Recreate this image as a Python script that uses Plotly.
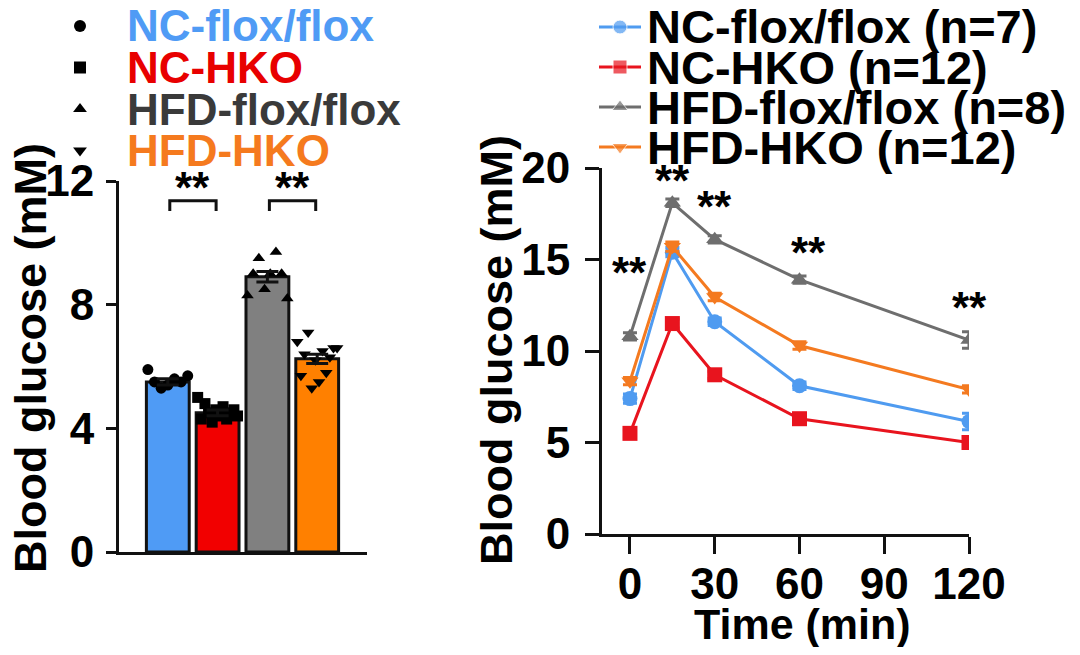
import plotly.graph_objects as go

# page: body has an 8px margin, so the figure is sized to fit the 1080x655 window
OFF = 8
FW, FH = 1064, 639

# ---------------- data ----------------
groups = ["NC-flox/flox", "NC-HKO", "HFD-flox/flox", "HFD-HKO"]
group_n = [7, 12, 8, 12]
bar_colors = ["#4F9BF5", "#F20000", "#808080", "#FF8000"]
text_colors = ["#4F9BF5", "#E80000", "#3A3A3A", "#F57A1E"]
line_colors = ["#4F9BF0", "#E8141E", "#6E6E6E", "#F47A20"]
bar_symbols = ["circle", "square", "triangle-up", "triangle-down"]

bar_means = [5.5, 4.5, 8.9, 6.25]
bar_sem = [0.10, 0.09, 0.17, 0.15]
pts_nc_flox = [5.9, 5.5, 5.3, 5.4, 5.6, 5.5, 5.7]
pts_nc_hko = [5.0, 4.3, 4.8, 4.5, 4.2, 4.6, 4.4, 4.7, 4.3, 4.5, 4.6, 4.4]
pts_hfd_flox = [8.3, 9.0, 9.5, 8.5, 9.0, 9.7, 9.0, 8.2]
pts_hfd_hko = [6.8, 5.7, 6.4, 7.1, 5.3, 6.2, 5.5, 6.5, 5.8, 6.3, 6.6, 6.6]
points = [pts_nc_flox, pts_nc_hko, pts_hfd_flox, pts_hfd_hko]

time_min = [0, 15, 30, 60, 120]
gtt_nc_flox = [7.4, 15.4, 11.6, 8.1, 6.15]
gtt_nc_hko = [5.5, 11.5, 8.7, 6.3, 5.0]
gtt_hfd_flox = [10.8, 18.1, 16.1, 13.9, 10.6]
gtt_hfd_hko = [8.35, 15.7, 12.95, 10.3, 7.9]
sem_nc_flox = [0.25, 0.25, 0.2, 0.2, 0.45]
sem_nc_hko = [0.2, 0.25, 0.2, 0.15, 0.15]
sem_hfd_flox = [0.2, 0.2, 0.2, 0.2, 0.45]
sem_hfd_hko = [0.2, 0.25, 0.2, 0.2, 0.2]
gtt = [gtt_nc_flox, gtt_nc_hko, gtt_hfd_flox, gtt_hfd_hko]
gtt_sem = [sem_nc_flox, sem_nc_hko, sem_hfd_flox, sem_hfd_hko]
line_symbols = ["circle", "square", "triangle-up", "triangle-down"]

sig_times = [0, 15, 30, 60, 120]
sig_labels = ["**", "**", "**", "**", "**"]

FONT = "Arial, Liberation Sans, sans-serif"
AX = "#111111"


def px(x):
    return (x - OFF) / FW


def py(y):
    return 1 - (y - OFF) / FH


fig = go.Figure()

# ---------------- left: bar chart ----------------
xcat = list(range(len(groups)))
fig.add_trace(go.Bar(
    x=xcat, y=bar_means, width=0.86,
    marker=dict(color=bar_colors, line=dict(color=AX, width=3)),
    xaxis="x", yaxis="y", showlegend=False,
))
for i, vals in enumerate(points):
    n = len(vals)
    offs = [-0.4 + 0.8 * k / (n - 1) for k in range(n)]
    fig.add_trace(go.Scatter(
        x=[i + o for o in offs], y=vals, mode="markers",
        marker=dict(symbol=bar_symbols[i], size=11, color="black"),
        xaxis="x", yaxis="y", showlegend=False,
    ))
fig.add_trace(go.Scatter(
    x=xcat, y=bar_means, mode="markers",
    marker=dict(size=1, color="rgba(0,0,0,0)"),
    error_y=dict(type="data", array=bar_sem, color=AX, thickness=3, width=11),
    xaxis="x", yaxis="y", showlegend=False,
))

# significance brackets (left)
for a, b in [(0, 1), (2, 3)]:
    x0, x1 = a + 0.04, b - 0.03
    fig.add_shape(type="path",
                  path=f"M {x0},11.03 L {x0},11.36 L {x1},11.36 L {x1},11.03",
                  xref="x", yref="y", line=dict(color=AX, width=3))
    fig.add_annotation(x=(a + b) / 2, y=11.8, xref="x", yref="y", text="<b>**</b>",
                       showarrow=False, font=dict(family=FONT, size=44, color="black"),
                       xanchor="center", yanchor="middle")

# ---------------- right: GTT ----------------
for i in [1, 0, 2, 3]:
    fig.add_trace(go.Scatter(
        x=time_min, y=gtt[i], mode="lines+markers",
        line=dict(color=line_colors[i], width=3),
        marker=dict(symbol=line_symbols[i], size=15, color=line_colors[i]),
        error_y=dict(type="data", array=gtt_sem[i], color=line_colors[i], thickness=3, width=7),
        xaxis="x2", yaxis="y2", showlegend=False,
    ))

sig_y = [14.3, 19.3, 17.9, 15.4, 12.4]
sig_nudge = [0, 0, 0, 9, 0]
for t, yv, lab, dx in zip(sig_times, sig_y, sig_labels, sig_nudge):
    fig.add_annotation(x=t, y=yv, xref="x2", yref="y2", text=f"<b>{lab}</b>", showarrow=False,
                       font=dict(family=FONT, size=44, color="black"), xshift=dx,
                       xanchor="center", yanchor="middle")

# ---------------- legends (keys on an overlay axis in window pixels) ----------------
left_rows = [26 + 41.5 * k for k in range(4)]
fig.add_trace(go.Scatter(
    x=[80] * 4, y=left_rows, mode="markers",
    marker=dict(symbol=bar_symbols, size=12, color="black"),
    xaxis="x3", yaxis="y3", showlegend=False, hoverinfo="skip",
))
for k in range(4):
    fig.add_annotation(x=px(125), y=py(left_rows[k]), xref="paper", yref="paper",
                       text=f"<b>{groups[k]}</b>", showarrow=False, xanchor="left",
                       yanchor="middle",
                       font=dict(family=FONT, size=44, color=text_colors[k]))

right_rows = [27 + 40 * k for k in range(4)]
for k in range(4):
    fig.add_trace(go.Scatter(
        x=[599, 620, 641], y=[right_rows[k]] * 3, mode="lines+markers",
        line=dict(color=line_colors[k], width=3),
        marker=dict(symbol=line_symbols[k], size=[0, 14, 0], color=line_colors[k]),
        xaxis="x3", yaxis="y3", showlegend=False, hoverinfo="skip",
    ))
    fig.add_annotation(x=px(645), y=py(right_rows[k]), xref="paper", yref="paper",
                       text=f"<b>{groups[k]} (n={group_n[k]})</b>", showarrow=False,
                       xanchor="left", yanchor="middle",
                       font=dict(family=FONT, size=47, color="black"))

# axis titles
fig.add_annotation(x=px(30), y=py(358), xref="paper", yref="paper",
                   text="<b>Blood glucose (mM)</b>", textangle=-90, showarrow=False,
                   xanchor="center", yanchor="middle",
                   font=dict(family=FONT, size=45, color="black"))
fig.add_annotation(x=px(497), y=py(350), xref="paper", yref="paper",
                   text="<b>Blood glucose (mM)</b>", textangle=-90, showarrow=False,
                   xanchor="center", yanchor="middle",
                   font=dict(family=FONT, size=45, color="black"))
fig.add_annotation(x=px(802), y=py(624), xref="paper", yref="paper",
                   text="<b>Time (min)</b>", showarrow=False,
                   xanchor="center", yanchor="middle",
                   font=dict(family=FONT, size=43, color="black"))

tickfont = dict(family=FONT, size=44, color="black", weight="bold")

fig.update_layout(
    width=FW, height=FH,
    margin=dict(l=0, r=0, t=0, b=0, pad=0, autoexpand=False),
    paper_bgcolor="white", plot_bgcolor="rgba(0,0,0,0)",
    showlegend=False,
    xaxis=dict(domain=[px(119), px(367)], range=[-0.98, 4.0], showline=True,
               linecolor=AX, linewidth=3, ticks="", showticklabels=False, automargin=False,
               showgrid=False, zeroline=False, fixedrange=True, anchor="y"),
    yaxis=dict(domain=[py(552), py(181)], range=[0, 12], tickvals=[0, 4, 8, 12],
               showline=True, linecolor=AX, linewidth=3, ticks="outside", ticklen=10,
               tickwidth=3, tickcolor=AX, tickfont=tickfont, showgrid=False, automargin=False,
               zeroline=False, ticklabelstandoff=3, anchor="x"),
    xaxis2=dict(domain=[px(602), px(969)], range=[-9.9, 120], tickvals=[0, 30, 60, 90, 120],
                showline=True, linecolor=AX, linewidth=3, ticks="outside", ticklen=17,
                tickwidth=3, tickcolor=AX, tickfont=tickfont, showgrid=False, automargin=False,
                zeroline=False, anchor="y2", ticklabelstandoff=-8),
    yaxis2=dict(domain=[py(534), py(168)], range=[0, 20], tickvals=[0, 5, 10, 15, 20],
                showline=True, linecolor=AX, linewidth=3, ticks="outside", ticklen=14,
                tickwidth=3, tickcolor=AX, tickfont=tickfont, showgrid=False, automargin=False,
                zeroline=False, anchor="x2", ticklabelstandoff=6),
    xaxis3=dict(domain=[0, 1], range=[OFF, OFF + FW], visible=False, fixedrange=True,
                automargin=False, anchor="y3"),
    yaxis3=dict(domain=[0, 1], range=[OFF + FH, OFF], visible=False, fixedrange=True,
                automargin=False, anchor="x3"),
)

fig.write_html("out.html")
